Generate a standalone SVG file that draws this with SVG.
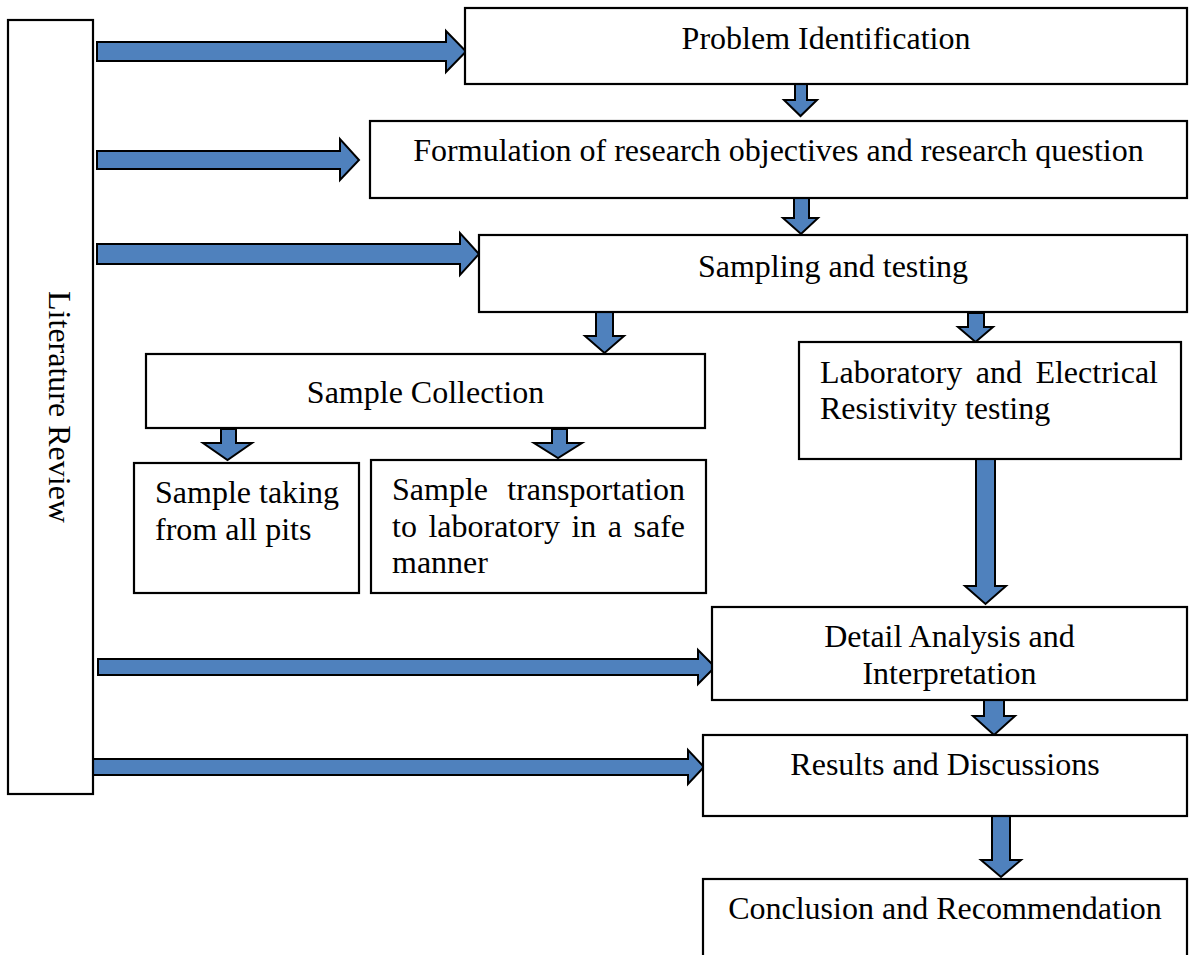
<svg xmlns="http://www.w3.org/2000/svg" width="1189" height="955" viewBox="0 0 1189 955">
<style>
.box{fill:#fff;stroke:#000;stroke-width:2.2}
.t{font-family:"Liberation Serif","Times New Roman",serif;font-size:32px;fill:#000}
.c{text-anchor:middle}
.e{text-anchor:end}
.arr{fill:#4F81BD;stroke:#000;stroke-width:2;stroke-linejoin:miter}
</style>
<rect width="1189" height="955" fill="#fff"/>
<g id="connectors">
<polygon class="arr" points="97,42 446,42 446,31 466,51.5 446,72 446,61 97,61"/>
<polygon class="arr" points="97,151 340,151 340,139 359,160 340,180 340,169 97,169"/>
<polygon class="arr" points="97,244 460,244 460,233 479,254 460,275 460,264 97,264"/>
<polygon class="arr" points="98,659 698,659 698,650 715,667 698,684 698,675 98,675"/>
<polygon class="arr" points="92,759 688,759 688,750 704,767 688,784 688,775 92,775"/>
<polygon class="arr" points="795,84 807,84 807,100 817,100 800.5,116 784,100 795,100"/>
<polygon class="arr" points="794,192 809,192 809,218 818,218 801,234 783,218 794,218"/>
<polygon class="arr" points="596,311 613,311 613,336 624,336 604.5,353 585,336 596,336"/>
<polygon class="arr" points="968,313 984,313 984,327 993,327 975.5,342 958,327 968,327"/>
<polygon class="arr" points="221,429 236,429 236,443 252,443 227.5,460 203,443 221,443"/>
<polygon class="arr" points="552,429 567,429 567,443 582,443 558,458 534,443 552,443"/>
<polygon class="arr" points="976,459 995,459 995,586 1006,586 985.5,604 965,586 976,586"/>
<polygon class="arr" points="984,698 1004,698 1004,716 1015,716 994,735 973,716 984,716"/>
<polygon class="arr" points="992,816 1010,816 1010,860 1021,860 1001,877 981,860 992,860"/>
</g>
<g id="literature-review">
<rect class="box" x="8" y="20" width="85" height="774"/>
<text class="t c" transform="translate(49,407) rotate(90)">Literature Review</text>
</g>
<g id="problem-identification">
<rect class="box" x="465" y="8" width="722" height="76"/>
<text class="t c" x="826" y="49">Problem Identification</text>
</g>
<g id="formulation">
<rect class="box" x="370" y="121" width="817" height="77"/>
<text class="t c" x="778.5" y="161">Formulation of research objectives and research question</text>
</g>
<g id="sampling-testing">
<rect class="box" x="479" y="235" width="708" height="77"/>
<text class="t c" x="833" y="277">Sampling and testing</text>
</g>
<g id="sample-collection">
<rect class="box" x="146" y="354" width="559" height="74"/>
<text class="t c" x="425.5" y="403">Sample Collection</text>
</g>
<g id="sample-taking">
<rect class="box" x="134" y="463" width="225" height="130"/>
<text class="t" x="155" y="503">Sample taking</text>
<text class="t" x="155" y="540">from all pits</text>
</g>
<g id="sample-transportation">
<rect class="box" x="371" y="460" width="335" height="133"/>
<text class="t" x="392" y="500">Sample</text>
<text class="t e" x="685" y="500">transportation</text>
<text class="t" x="392" y="537">to</text>
<text class="t" x="428.4" y="537">laboratory</text>
<text class="t" x="571.4" y="537">in</text>
<text class="t" x="607.8" y="537">a</text>
<text class="t e" x="685" y="537">safe</text>
<text class="t" x="392" y="573">manner</text>
</g>
<g id="laboratory-testing">
<rect class="box" x="799" y="342" width="382" height="117"/>
<text class="t" x="820" y="383">Laboratory</text>
<text class="t" x="975.7" y="383">and</text>
<text class="t e" x="1158" y="383">Electrical</text>
<text class="t" x="820" y="419">Resistivity testing</text>
</g>
<g id="detail-analysis">
<rect class="box" x="712" y="607" width="475" height="93"/>
<text class="t c" x="949.5" y="647">Detail Analysis and</text>
<text class="t c" x="949.5" y="684">Interpretation</text>
</g>
<g id="results-discussions">
<rect class="box" x="703" y="735" width="484" height="81"/>
<text class="t c" x="945" y="775">Results and Discussions</text>
</g>
<g id="conclusion">
<rect class="box" x="703" y="879" width="484" height="90"/>
<text class="t c" x="945" y="919">Conclusion and Recommendation</text>
</g>
</svg>
